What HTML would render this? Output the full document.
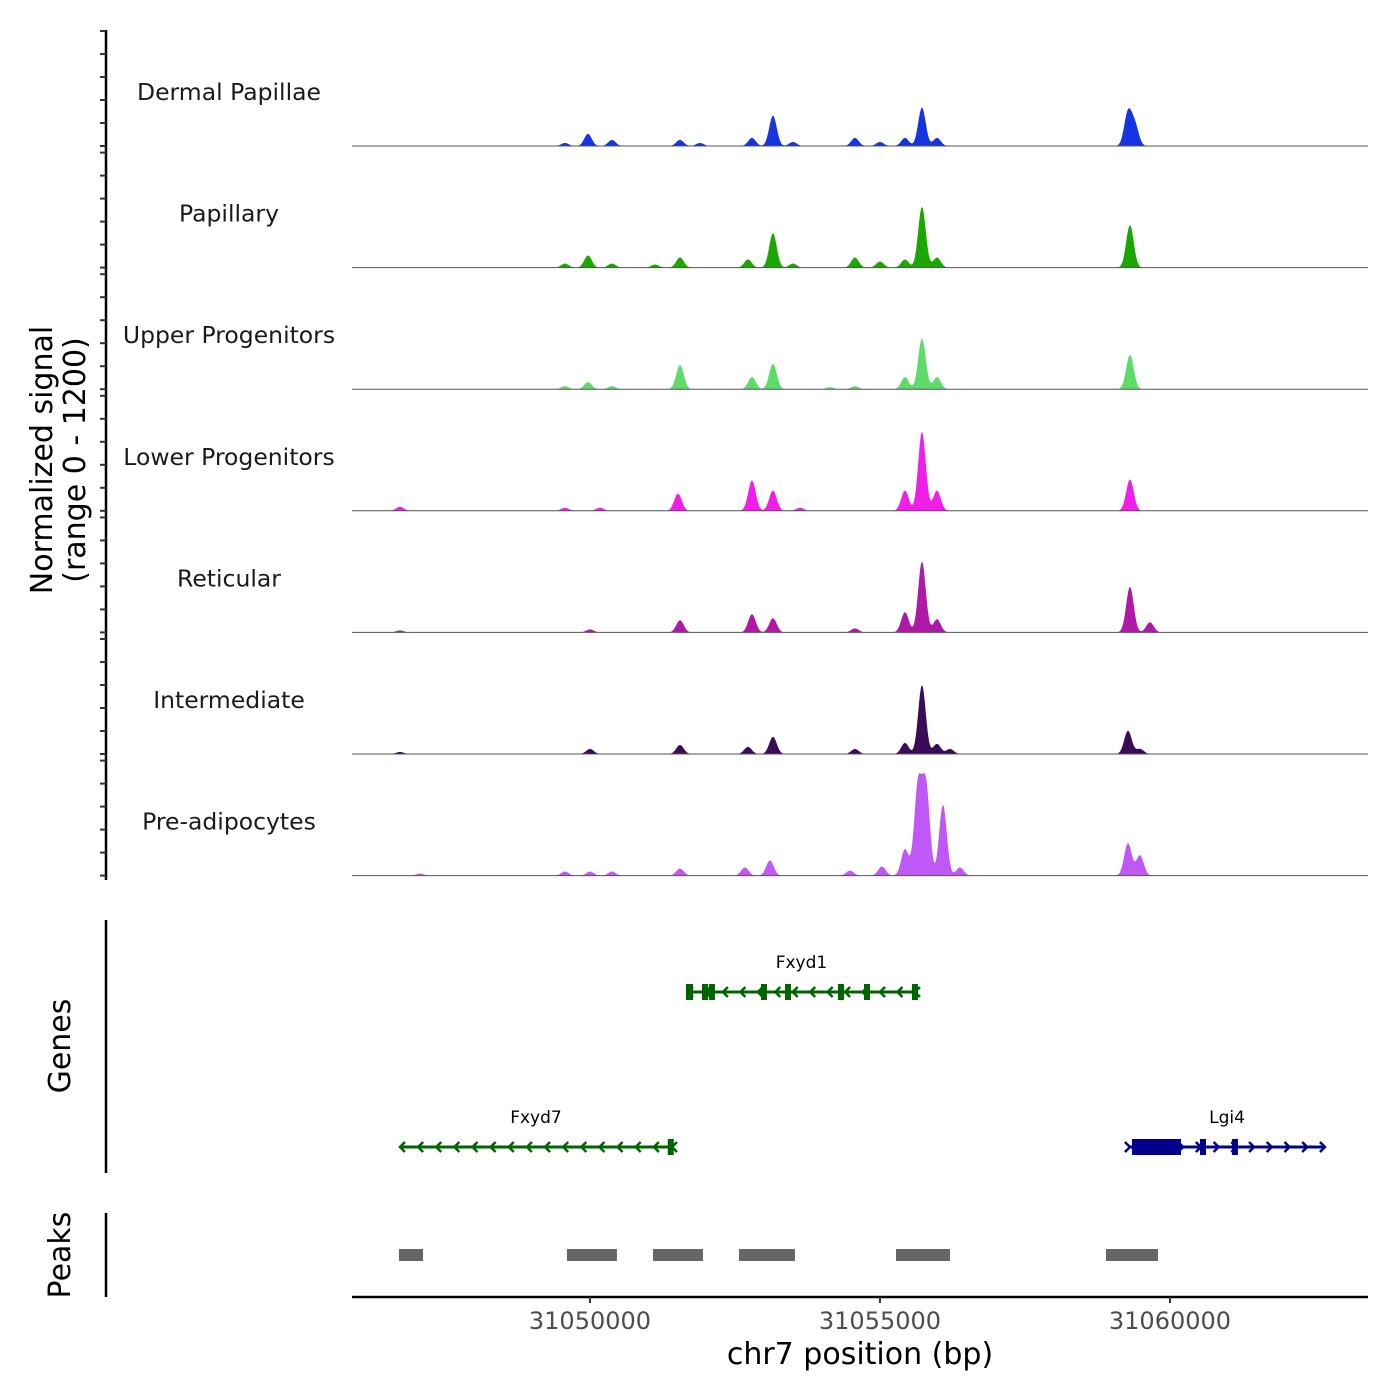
<!DOCTYPE html>
<html><head><meta charset="utf-8"><style>
body{margin:0;background:#fff}
svg{display:block;font-family:"DejaVu Sans","Liberation Sans",sans-serif}
</style></head><body>
<svg id="c" width="1400" height="1400" viewBox="0 0 1400 1400"></svg>
<script>
const trackNames=["Dermal Papillae","Papillary","Upper Progenitors","Lower Progenitors","Reticular","Intermediate","Pre-adipocytes"];
const trackColors=["#1535e0","#1aa800","#5ddc68","#f01ee8","#b018a8","#380c58","#c058f8"];
const dermalCenters=[31049569,31049966,31050379,31051552,31051897,31052793,31053155,31053500,31054569,31055000,31055431,31055724,31055983,31059276,31059397];
const dermalValues=[30,120,60,60,30,80,300,40,80,40,80,380,80,330,200];
const papillaryCenters=[31049569,31049966,31050379,31051121,31051552,31052724,31053155,31053500,31054569,31055000,31055431,31055724,31055983,31059310];
const papillaryValues=[40,120,40,30,100,80,340,40,100,60,80,600,100,420];
const upperCenters=[31049569,31049966,31050379,31051552,31052793,31053155,31054138,31054569,31055431,31055724,31055983,31059310];
const upperValues=[30,70,30,240,120,250,20,30,120,500,120,340];
const lowerCenters=[31046724,31049569,31050172,31051517,31052793,31053155,31053621,31055431,31055724,31055983,31059310];
const lowerValues=[40,30,30,170,300,200,30,200,780,200,310];
const reticularCenters=[31046724,31050000,31051552,31052793,31053155,31054569,31055431,31055724,31055983,31059310,31059655];
const reticularValues=[20,30,120,180,140,40,200,700,130,450,100];
const intermediateCenters=[31046724,31050000,31051552,31052724,31053155,31054569,31055431,31055724,31055983,31056207,31059276,31059483];
const intermediateValues=[20,50,90,70,170,50,110,680,100,50,230,50];
const preadipoCenters=[31047069,31049569,31050000,31050379,31051552,31052672,31053103,31054483,31055034,31055431,31055655,31055793,31056086,31056379,31059276,31059483];
const preadipoValues=[20,40,40,40,70,80,150,50,90,260,880,880,700,80,320,200];
const trackCenters=[dermalCenters,papillaryCenters,upperCenters,lowerCenters,reticularCenters,intermediateCenters,preadipoCenters];
const trackValues=[dermalValues,papillaryValues,upperValues,lowerValues,reticularValues,intermediateValues,preadipoValues];
const xTicks=[31050000,31055000,31060000];
const peakStarts=[31046707,31049603,31051086,31052569,31055276,31058896];
const peakEnds=[31047121,31050465,31051948,31053534,31056207,31059793];
const fxyd1Exons=[31051724,31051983,31052103,31053000,31053414,31054328,31054776,31055603];
const fxyd7Exons=[31051393];

const X0=31045897, PX=0.058;
const sx=v=>352+(v-X0)*PX;
const svg=document.getElementById('c');
const NS="http://www.w3.org/2000/svg";
function mk(tag,attrs,parent){const e=document.createElementNS(NS,tag);for(const k in attrs)e.setAttribute(k,attrs[k]);(parent||svg).appendChild(e);return e;}
const TH=121.6, SIG=65;
const sy=(i,v)=>146+i*TH - v*(TH/1200);

const ax=mk('line',{x1:106,y1:30,x2:106,y2:880,stroke:"#000","stroke-width":2.5});

for(let i=0;i<7;i++){for(let k=0;k<6;k++){const y=31+i*TH+k*23;const t=mk('line',{x1:100,y1:y,x2:106,y2:y,stroke:"#333","stroke-width":2});
}}

for(let i=0;i<7;i++){
  const g=mk('g',{});
  
  
  const C=trackCenters[i],V=trackValues[i];
  let d="M352,"+sy(i,0);
  for(let x=352;x<=1368;x+=1){const bp=X0+(x-352)/PX;let v=0;for(let j=0;j<C.length;j++){const z=(bp-C[j])/SIG;v+=V[j]*Math.exp(-0.5*z*z);}d+=" L"+x+","+sy(i,Math.min(v,1200)).toFixed(2);}
  d+=" L1368,"+sy(i,0)+" Z";
  const p=mk('path',{d:d,fill:trackColors[i]},g);
  
  const b=mk('line',{x1:352,x2:1368,y1:sy(i,0),y2:sy(i,0),stroke:"#555","stroke-width":1},g);
  
  const l=mk('text',{x:229,y:sy(i,0)-46,"text-anchor":"middle","font-size":23.5,fill:"#1a1a1a"},g);l.textContent=trackNames[i];
  
}
const yt=mk('text',{transform:"translate(52,460) rotate(-90)","text-anchor":"middle","font-size":30,fill:"#000"});
yt.innerHTML='<tspan x="0" dy="0">Normalized signal</tspan><tspan x="0" dy="33">(range 0 - 1200)</tspan>';


const ga=mk('line',{x1:106,y1:920,x2:106,y2:1173,stroke:"#000","stroke-width":2.5});

const gt=mk('text',{transform:"translate(70,1046) rotate(-90)","text-anchor":"middle","font-size":30});gt.textContent="Genes";

function gene(name,start,end,y,color,strand,exons,bigExon){
  const g=mk('g',{});
  mk('line',{x1:sx(start),x2:sx(end),y1:y,y2:y,stroke:color,"stroke-width":3},g);
  const len=sx(end)-sx(start);const n=Math.round(len/18);const step=len/n;
  for(let k=0;k<=n;k++){const x=sx(start)+k*step;const s=strand<0?5:-5;
    mk('polyline',{points:(x+s)+","+(y-5)+" "+x+","+y+" "+(x+s)+","+(y+5),fill:"none",stroke:color,"stroke-width":2.5},g);}
  exons.forEach(e=>mk('rect',{x:sx(e)-3,y:y-8,width:6,height:16,fill:color},g));
  if(bigExon)mk('rect',{x:sx(bigExon[0]),y:y-8,width:sx(bigExon[1])-sx(bigExon[0]),height:16,fill:color},g);
  const t=mk('text',{x:(sx(start)+sx(end))/2,y:y-24,"text-anchor":"middle","font-size":17,fill:"#000"},g);t.textContent=name;
  return t;
}
gene("Fxyd1",31051690,31055603,992,"#006400",-1,fxyd1Exons,[31051655,31051775]);
gene("Fxyd7",31046724,31051414,1147,"#006400",-1,fxyd7Exons,null);
const lg=gene("Lgi4",31059310,31062672,1147,"#00008b",1,[31060569,31061120],[31059345,31060190]);
lg.setAttribute('x',1227);

const pa=mk('line',{x1:106,y1:1213,x2:106,y2:1297,stroke:"#000","stroke-width":2.5});

const pt=mk('text',{transform:"translate(70,1255) rotate(-90)","text-anchor":"middle","font-size":30});pt.textContent="Peaks";

for(let j=0;j<peakStarts.length;j++){const r=mk('rect',{x:sx(peakStarts[j]),y:1249,width:sx(peakEnds[j])-sx(peakStarts[j]),height:12,fill:"#666"});
}

const xa=mk('line',{x1:352,y1:1297,x2:1368,y2:1297,stroke:"#000","stroke-width":2.5});

xTicks.forEach(v=>{const t=mk('line',{x1:sx(v),x2:sx(v),y1:1297,y2:1303,stroke:"#333","stroke-width":2});

const l=mk('text',{x:sx(v),y:1329,"text-anchor":"middle","font-size":24,fill:"#4d4d4d"});l.textContent=v;
});
const xt=mk('text',{x:860,y:1364,"text-anchor":"middle","font-size":30});xt.textContent="chr7 position (bp)";

</script>
</body></html>
